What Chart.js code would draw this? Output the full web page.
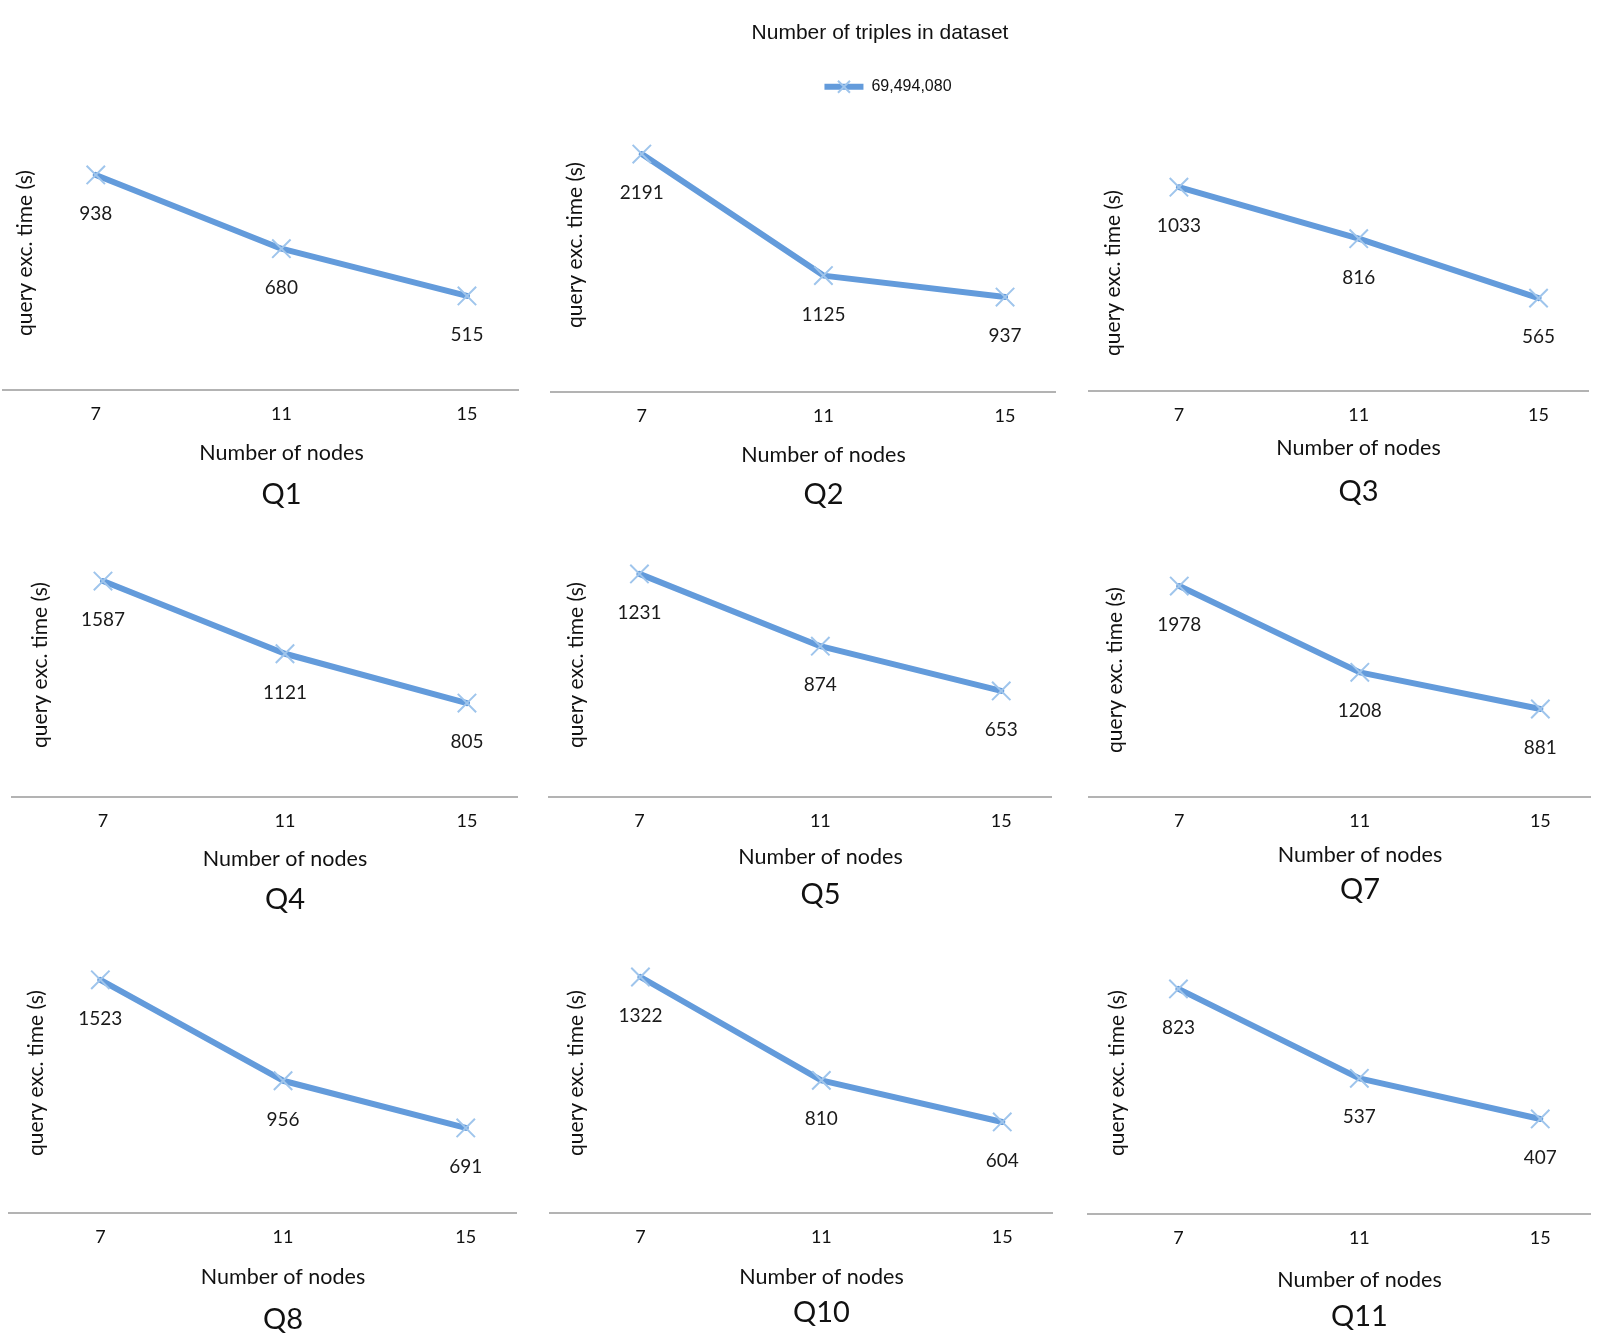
<!DOCTYPE html>
<html>
<head>
<meta charset="utf-8">
<title>Query execution time by number of nodes</title>
<script src="https://cdn.jsdelivr.net/npm/chart.js@4.4.1/dist/chart.umd.min.js"></script>
<style>
    html, body { margin: 0; padding: 0; background: #fff; overflow: hidden; }
    body { width: 1600px; height: 1342px; position: relative; }
    .box { position: absolute; }
</style>
</head>
<body>
<div class="box" style="left:480px;top:0;width:800px;height:112px"><canvas id="headerChart"></canvas></div>
<div id="panels"></div>
<script>
// Chart data
const nodes = [7, 11, 15];
const queryNames = ['Q1', 'Q2', 'Q3', 'Q4', 'Q5', 'Q7', 'Q8', 'Q10', 'Q11'];
const q1Times = [938, 680, 515];
const q2Times = [2191, 1125, 937];
const q3Times = [1033, 816, 565];
const q4Times = [1587, 1121, 805];
const q5Times = [1231, 874, 653];
const q7Times = [1978, 1208, 881];
const q8Times = [1523, 956, 691];
const q10Times = [1322, 810, 604];
const q11Times = [823, 537, 407];
const queryTimes = [q1Times, q2Times, q3Times, q4Times, q5Times, q7Times, q8Times, q10Times, q11Times];

const seriesLabel = '69,494,080';
const chartTitle = 'Number of triples in dataset';
const xTitle = 'Number of nodes';
const yTitle = 'query exc. time (s)';

// x range shared by every panel
const xMin = 5;
const xMax = 16.1;

// Where each panel sits: axis line, plot height, title offsets and y range
const panelLayout = [
    { left: 3,    right: 518,  axisY: 390,  h: 274, yDx: 22, xt: 63, qt: 105, yMin: 186, yMax: 1144 },
    { left: 551,  right: 1055, axisY: 392,  h: 294, yDx: 24, xt: 63, qt: 103, yMin: 104, yMax: 2683 },
    { left: 1089, right: 1588, axisY: 391,  h: 236, yDx: 24, xt: 57, qt: 101, yMin: 173, yMax: 1169 },
    { left: 12,   right: 517,  axisY: 797,  h: 264, yDx: 28, xt: 62, qt: 103, yMin: 203, yMax: 1895 },
    { left: 549,  right: 1051, axisY: 797,  h: 264, yDx: 27, xt: 60, qt: 98,  yMin: 129, yMax: 1433 },
    { left: 1089, right: 1590, axisY: 797,  h: 254, yDx: 26, xt: 58, qt: 93,  yMin: 96,  yMax: 2362 },
    { left: 9,    right: 516,  axisY: 1213, h: 280, yDx: 27, xt: 64, qt: 107, yMin: 213, yMax: 1786 },
    { left: 550,  right: 1052, axisY: 1213, h: 280, yDx: 26, xt: 64, qt: 100, yMin: 153, yMax: 1540 },
    { left: 1088, right: 1590, axisY: 1214, h: 282, yDx: 29, xt: 66, qt: 103, yMin: 103, yMax: 1005 }
];

const lineColor = '#639bdb';
const markerColor = '#9fc5ec';
const textColor = '#111';

// font sizes (line height is 1.2 x size)
const tickSize = 18;
const xTitleSize = 21.5;
const qSize = 29;
const ySize = 21;
const xAxisHeight = 38;

Chart.defaults.font.family = 'Lato, "Open Sans", sans-serif';
Chart.defaults.color = textColor;

// Value labels under each point
const valueLabels = {
    id: 'valueLabels',
    afterDatasetsDraw(chart) {
        const ctx = chart.ctx;
        const meta = chart.getDatasetMeta(0);
        const values = chart.data.datasets[0].data;
        ctx.save();
        ctx.font = '19px Lato';
        ctx.fillStyle = '#1a1a1a';
        ctx.textAlign = 'center';
        ctx.textBaseline = 'middle';
        meta.data.forEach((pt, i) => {
            ctx.fillText(String(values[i].y), pt.x, pt.y + 39);
        });
        ctx.restore();
    }
};

// X marker on top of the legend line
const legendMarker = {
    id: 'legendMarker',
    afterDraw(chart) {
        const hit = chart.legend && chart.legend.legendHitBoxes[0];
        if (!hit) return;
        const ctx = chart.ctx;
        const cx = hit.left + 19.5;
        const cy = hit.top + hit.height / 2;
        const r = 6;
        ctx.save();
        ctx.strokeStyle = markerColor;
        ctx.lineWidth = 2;
        ctx.beginPath();
        ctx.moveTo(cx - r, cy - r);
        ctx.lineTo(cx + r, cy + r);
        ctx.moveTo(cx + r, cy - r);
        ctx.lineTo(cx - r, cy + r);
        ctx.stroke();
        ctx.restore();
    }
};

function createHeader() {
    new Chart(document.getElementById('headerChart'), {
        type: 'line',
        data: {
            datasets: [{
                label: seriesLabel,
                data: [],
                borderColor: lineColor,
                backgroundColor: lineColor,
                borderWidth: 6
            }]
        },
        options: {
            responsive: true,
            maintainAspectRatio: false,
            animation: false,
            scales: {
                x: { display: false },
                // blank strip so the legend sits a little right of the title
                y: {
                    display: true,
                    afterFit: (scale) => { scale.width = 16; },
                    grid: { display: false, drawTicks: false },
                    border: { display: false },
                    ticks: { display: false }
                }
            },
            plugins: {
                tooltip: { enabled: false },
                title: {
                    display: true,
                    text: chartTitle,
                    color: textColor,
                    font: { family: '"Liberation Sans", Arial, sans-serif', size: 21, weight: 'normal' },
                    padding: { top: 20.4, bottom: 7.2 }
                },
                legend: {
                    display: true,
                    position: 'top',
                    fullSize: false,
                    labels: {
                        boxWidth: 39,
                        boxHeight: 6,
                        padding: 26,
                        useBorderRadius: true,
                        borderRadius: 3,
                        color: textColor,
                        font: { family: '"Liberation Sans", Arial, sans-serif', size: 16 },
                        generateLabels: (chart) => chart.data.datasets.map((ds, i) => ({
                            text: ds.label,
                            fillStyle: lineColor,
                            strokeStyle: lineColor,
                            lineWidth: 0,
                            fontColor: textColor,
                            datasetIndex: i
                        }))
                    }
                }
            }
        },
        plugins: [legendMarker]
    });
}

// canvas box for a panel; inset is any space Chart.js keeps round the plot on its own.
// Titles are centred on the canvas, so the canvas is centred on the middle node and a
// blank right-hand scale takes up the room between the axis end and the canvas edge.
function panelGeometry(p, inset) {
    const plotW = p.right - p.left;
    const midX = p.left + plotW * (nodes[1] - xMin) / (xMax - xMin);
    const left = p.left - inset.l;
    const width = Math.round(2 * (midX - left));
    const top = p.axisY - p.h - inset.t;
    const below = p.qt + qSize * 0.6;
    const height = Math.ceil(inset.t + p.h + below + 6);
    return {
        left, top, width, height,
        rightSpace: left + width - p.right - inset.r,
        padBottom: height - (inset.t + p.h + below)
    };
}

function placeWrap(wrap, g) {
    wrap.style.left = g.left + 'px';
    wrap.style.top = g.top + 'px';
    wrap.style.width = g.width + 'px';
    wrap.style.height = g.height + 'px';
}

function createPanel(idx) {
    const p = panelLayout[idx];
    let g = panelGeometry(p, { l: 0, t: 0, r: 0 });

    const wrap = document.createElement('div');
    wrap.className = 'box';
    placeWrap(wrap, g);
    const canvas = document.createElement('canvas');
    wrap.appendChild(canvas);
    document.getElementById('panels').appendChild(wrap);

    const chart = new Chart(canvas, {
        type: 'line',
        data: {
            datasets: [{
                label: seriesLabel,
                data: nodes.map((n, i) => ({ x: n, y: queryTimes[idx][i] })),
                borderColor: lineColor,
                backgroundColor: lineColor,
                borderWidth: 6,
                borderCapStyle: 'round',
                borderJoinStyle: 'round',
                tension: 0,
                pointStyle: 'crossRot',
                pointRadius: 13,
                pointBorderWidth: 2,
                pointBorderColor: markerColor,
                pointBackgroundColor: markerColor,
                clip: false
            }]
        },
        options: {
            responsive: true,
            maintainAspectRatio: false,
            animation: false,
            layout: {
                padding: { left: 0, top: 0, right: 0, bottom: g.padBottom }
            },
            scales: {
                x: {
                    type: 'linear',
                    min: xMin,
                    max: xMax,
                    afterBuildTicks: (scale) => {
                        scale.ticks = nodes.map(v => ({ value: v }));
                    },
                    afterFit: (scale) => {
                        scale.height = xAxisHeight;
                    },
                    grid: { display: false, drawTicks: false },
                    border: { display: true, color: '#b3b3b3', width: 2 },
                    ticks: {
                        padding: 24 - tickSize * 0.6,
                        color: textColor,
                        font: { size: tickSize }
                    }
                },
                y: {
                    min: p.yMin,
                    max: p.yMax,
                    afterFit: (scale) => {
                        scale.width = 0;
                    },
                    grid: { display: false, drawTicks: false },
                    border: { display: false },
                    ticks: { display: false },
                    title: {
                        display: true,
                        text: yTitle,
                        color: textColor,
                        font: { size: ySize },
                        padding: { top: p.yDx - ySize * 0.6, bottom: 0 }
                    }
                },
                yRight: {
                    position: 'right',
                    display: true,
                    afterFit: (scale) => {
                        scale.width = g.rightSpace;
                    },
                    grid: { display: false, drawTicks: false },
                    border: { display: false },
                    ticks: { display: false }
                }
            },
            plugins: {
                legend: { display: false },
                tooltip: { enabled: false },
                subtitle: {
                    display: true,
                    position: 'bottom',
                    text: xTitle,
                    color: textColor,
                    font: { size: xTitleSize, weight: 'normal' },
                    padding: { top: p.xt - xAxisHeight - xTitleSize * 0.6, bottom: 0 }
                },
                title: {
                    display: true,
                    position: 'bottom',
                    text: queryNames[idx],
                    color: textColor,
                    font: { size: qSize, weight: 'normal' },
                    padding: { top: p.qt - p.xt - xTitleSize * 0.6 - qSize * 0.6, bottom: 0 }
                }
            }
        },
        plugins: [valueLabels]
    });

    // shift the canvas if the plot area did not land where it should
    const a = chart.chartArea;
    const inset = {
        l: Math.max(a.left, 0),
        t: Math.max(a.top, 0),
        r: Math.max((g.width - g.rightSpace) - a.right, 0)
    };
    if (inset.l > 0.5 || inset.t > 0.5 || inset.r > 0.5) {
        g = panelGeometry(p, inset);
        placeWrap(wrap, g);
        chart.options.layout.padding = { left: 0, top: 0, right: 0, bottom: g.padBottom };
        chart.resize();
        chart.update();
    }
}

createHeader();
queryNames.forEach((name, i) => createPanel(i));
</script>
</body>
</html>
